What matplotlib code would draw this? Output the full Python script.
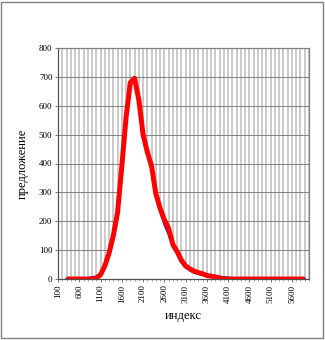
import matplotlib.pyplot as plt
from matplotlib.patches import Rectangle
from matplotlib.ticker import MultipleLocator

# категории (индекс) и две серии
categories = list(range(100, 6100, 100))
series_x = list(range(300, 6000, 100))
red_values = [0, 0, 0, 0, 0, 0, 0,
              3, 15, 45, 90, 150, 230, 390, 560, 680, 695,
              620, 500, 440, 390, 295, 245, 205, 175, 120, 95,
              65, 45, 35, 27, 22, 18, 12, 10, 7, 3, 1,
              0, 0, 0, 0, 0, 0, 0, 0, 0, 0, 0, 0, 0, 0, 0, 0, 0, 0, 0]
blue_values = [0, 0, 0, 0, 0,
               3, 6, 8, 12, 40, 80, 135, 215, 380, 555, 675, 690,
               615, 500, 440, 385, 290, 235, 190, 155, 110, 90,
               60, 42, 30, 22, 18, 14, 12, 11, 10, 8, 6, 5, 2,
               0, 0, 0, 0, 0, 0, 0, 0, 0, 0, 0, 0, 0, 0, 0, 0, 0]
y_ticks = list(range(0, 900, 100))
x_labels = list(range(100, 6000, 500))

plt.rcParams['font.family'] = ['Liberation Serif', 'DejaVu Serif']

fig = plt.figure(figsize=(3.25, 3.4), dpi=100)
ax = fig.add_axes([58 / 325, 1 - 279 / 340, 251 / 325, 231 / 340])

# сетка
ax.set_axisbelow(True)
for c in categories:
    ax.axvline(c, color='#bcbcbc', lw=1.1, zorder=0.4)
for v in y_ticks:
    ax.axhline(v, color='#707070', lw=0.6, zorder=0.5)

# белая заливка под кривой закрывает сетку
ax.fill_between(series_x, red_values, 0, color='white', zorder=1, lw=0)

ax.plot(series_x, blue_values, color='#0000ff', lw=1.6, zorder=2)
ax.plot(series_x, red_values, color='#ff0000', lw=3.6, zorder=3,
        solid_joinstyle='round', solid_capstyle='butt')

ax.set_xlim(100, 6000)
ax.set_ylim(0, 800)
ax.set_yticks(y_ticks)
ax.set_xticks(x_labels)
ax.set_xticklabels([str(v) for v in x_labels], rotation=90)
ax.xaxis.set_minor_locator(MultipleLocator(100))
ax.tick_params(axis='both', labelsize=6.5, length=2.5, width=0.6,
               color='#606060', pad=1.5)
ax.tick_params(axis='x', which='minor', length=1.5, width=0.5, color='#808080')

for s in ax.spines.values():
    s.set_color('#808080')
    s.set_linewidth(0.9)
ax.spines['left'].set_color('#505050')
ax.spines['bottom'].set_color('#505050')

ax.set_xlabel('индекс', fontsize=9, labelpad=5)
ax.set_ylabel('предложение', fontsize=9, labelpad=7)

# рамка диаграммы
fig.patches.append(Rectangle((1 / 325, 2 / 340), 322 / 325, 336 / 340,
                             transform=fig.transFigure, fill=False,
                             edgecolor='#808080', lw=1.0))

fig.savefig('out.png', dpi=100)
